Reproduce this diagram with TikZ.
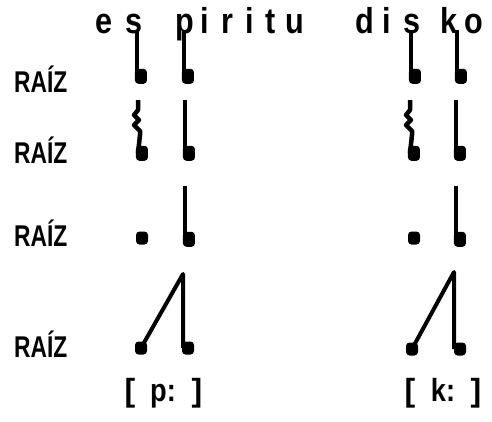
\documentclass[tikz,border=0pt]{standalone}
\usepackage{fontspec}
\usepackage{graphicx}
\setmainfont{Liberation Sans}
\newcommand{\nar}[1]{\scalebox{0.85}[1]{#1}}
\newcommand{\narr}[1]{\scalebox{0.76}[1]{#1}}
\begin{document}
\begin{tikzpicture}[x=1pt,y=-1pt,
  seg/.style={font=\bfseries\fontsize{36}{36}\selectfont, anchor=base, inner sep=0pt},
  raiz/.style={font=\bfseries\fontsize{30}{30}\selectfont, anchor=base west, inner sep=0pt},
  lab/.style={font=\bfseries\fontsize{32}{32}\selectfont, anchor=base, inner sep=0pt},
  stem/.style={line width=4.5pt},
  blob/.style={fill, rounded corners=3.5pt, minimum width=12pt, minimum height=15pt, inner sep=0pt, anchor=south west},
  dotnode/.style={fill, rounded corners=3.5pt, minimum width=12pt, minimum height=13pt, inner sep=0pt},
  assoc/.style={line width=4pt, line join=round}]
\useasboundingbox (0,0) rectangle (492,421);
% top segments
\node[seg] (l1) at (104,33) {\nar{e}};
\node[seg] (l2) at (134,33) {\nar{s}};
\node[seg] (l3) at (185,33) {\nar{p}};
\node[seg] (l4) at (205,33) {\nar{i}};
\node[seg] (l5) at (227,33) {\nar{r}};
\node[seg] (l6) at (250,33) {\nar{i}};
\node[seg] (l7) at (271,33) {\nar{t}};
\node[seg] (l8) at (295,33) {\nar{u}};
\node[seg] (l9) at (365,33) {\nar{d}};
\node[seg] (l10) at (387,33) {\nar{i}};
\node[seg] (l11) at (412,33) {\nar{s}};
\node[seg] (l12) at (449,33) {\nar{k}};
\node[seg] (l13) at (474,33) {\nar{o}};
% RAIZ labels
\node[raiz] (r1) at (14,92) {\narr{RAÍZ}};
\node[raiz] (r2) at (14,163) {\narr{RAÍZ}};
\node[raiz] (r3) at (14,246) {\narr{RAÍZ}};
\node[raiz] (r4) at (14,357) {\narr{RAÍZ}};
% row 1
\coordinate (t11) at (137,30); \node[blob] (b11) at (134.75,84) {};
\coordinate (t12) at (184,30); \node[blob] (b12) at (181.75,84) {};
\coordinate (t13) at (411,30); \node[blob] (b13) at (408.75,84) {};
\coordinate (t14) at (457,30); \node[blob] (b14) at (454.75,84) {};
\foreach \i in {11,12,13,14} \draw[stem] (t\i) -- (t\i |- b\i.center);
% row 2
\coordinate (t21) at (138,100); \node[blob] (b21) at (135.75,161) {};
\coordinate (t22) at (185,100); \node[blob] (b22) at (182.75,161) {};
\coordinate (t23) at (410,100); \node[blob] (b23) at (407.75,161) {};
\coordinate (t24) at (456,100); \node[blob] (b24) at (453.75,161) {};
\foreach \i in {22,24} \draw[stem] (t\i) -- (t\i |- b\i.center);
\draw[stem, line join=round] (t21) -- ++(0,10) -- ++(-4,5) -- ++(5,5) -- ++(-5,5) -- ++(6,6) -- ++(0,4) -- (t21 |- b21.center);
\draw[stem, line join=round] (t23) -- ++(0,10) -- ++(-4,5) -- ++(5,5) -- ++(-5,5) -- ++(6,6) -- ++(0,4) -- (t23 |- b23.center);
% row 3
\node[dotnode] (d31) at (142,238) {};
\coordinate (t32) at (185,186); \node[blob] (b32) at (182.75,247) {};
\node[dotnode] (d33) at (414,238) {};
\coordinate (t34) at (456,186); \node[blob] (b34) at (453.75,247) {};
\foreach \i in {32,34} \draw[stem] (t\i) -- (t\i |- b\i.center);
% row 4
\node[dotnode] (d41) at (141,348) {};
\node[dotnode] (d42) at (188,348) {};
\coordinate (a41) at (183,274);
\node[dotnode] (d43) at (412,349) {};
\node[dotnode] (d44) at (460,349) {};
\coordinate (a42) at (454,272);
\draw[assoc] (d41.center) -- (a41) -- (a41 |- d42.center);
\draw[assoc] (d43.center) -- (a42) -- (a42 |- d44.center);
% bottom transcriptions
\node[lab] (o1) at (130,401) {[};
\node[lab] (p1) at (163,401) {\nar{p:}};
\node[lab] (c1) at (197,401) {]};
\node[lab] (o2) at (410,401) {[};
\node[lab] (k1) at (443,401) {\nar{k:}};
\node[lab] (c2) at (476,401) {]};
\end{tikzpicture}
\end{document}
